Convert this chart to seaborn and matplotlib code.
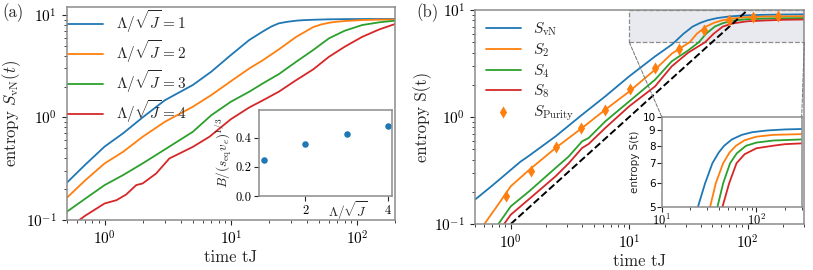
import numpy as np
import seaborn as sns
import matplotlib
matplotlib.use("Agg")
import matplotlib.pyplot as plt
from matplotlib.patches import Rectangle, ConnectionPatch
from matplotlib.ticker import NullLocator, NullFormatter

sns.set_style("ticks")
plt.rcParams.update({
    "font.family": "cmr10",
    "mathtext.fontset": "cm",
    "axes.formatter.use_mathtext": True,
    "axes.unicode_minus": False,
    "axes.edgecolor": "0.55",
    "axes.linewidth": 1.1,
    "xtick.color": "0.15",
    "ytick.color": "0.15",
    "xtick.labelcolor": "black",
    "ytick.labelcolor": "black",
})

# ---------------- panel (a): S_vN for different Lambda ----------------
t_l1 = [0.5, 0.7, 1, 1.4, 2, 3, 5, 7, 10, 14, 18, 21, 24, 28, 33, 38, 45, 60, 80, 110,
        150, 200]
s_lam1 = [0.23, 0.345, 0.52, 0.70, 1.0, 1.47, 2.07, 2.79, 4.05, 5.68, 6.9, 7.7, 8.26,
          8.55, 8.77, 8.88, 8.95, 9.04, 9.08, 9.1, 9.1, 9.1]
t_l2 = [0.5, 0.7, 1, 1.4, 2, 3, 5, 7, 10, 14, 18, 24, 33, 45, 52, 60, 70, 80, 110,
        150, 200]
s_lam2 = [0.164, 0.243, 0.356, 0.462, 0.647, 0.906, 1.27, 1.65, 2.25, 3.0, 3.62, 4.6,
          6.1, 7.6, 8.05, 8.37, 8.58, 8.7, 8.9, 8.97, 9.0]
t_l3 = [0.5, 0.7, 1, 1.4, 2, 3, 5, 7, 10, 14, 18, 24, 33, 45, 60, 80, 110, 150, 200]
s_lam3 = [0.12, 0.161, 0.219, 0.274, 0.356, 0.487, 0.724, 1.05, 1.42, 1.78, 2.15, 2.64,
          3.49, 4.54, 5.9, 7.0, 7.95, 8.45, 8.77]
t_l4 = [0.5, 0.7, 1, 1.24, 1.48, 1.78, 2, 2.56, 3.26, 3.69, 5, 6.76, 10, 14, 18, 24,
        33, 45, 60, 80, 110, 150, 200]
s_lam4 = [0.081, 0.11, 0.145, 0.156, 0.177, 0.219, 0.227, 0.284, 0.398, 0.429, 0.516,
          0.647, 0.96, 1.25, 1.47, 1.78, 2.31, 2.94, 3.9, 4.89, 6.1, 7.2, 8.13]

# inset (a): butterfly velocity ratio
lam_vals = [1, 2, 3, 4]
b_ratio = [0.245, 0.358, 0.428, 0.477]

# ---------------- panel (b): Renyi entropies ----------------
t_vn = [0.5, 0.7, 1, 1.2, 1.43, 2.39, 4, 6.28, 10, 16.5, 22.8, 24.1, 28.7, 34.3, 40,
        45.6, 55, 70, 90, 130, 200, 300]
s_vn = [0.169, 0.229, 0.32, 0.38, 0.435, 0.659, 1.05, 1.56, 2.4, 3.68, 4.74, 5.0, 6.0,
        7.0, 7.6, 8.0, 8.4, 8.7, 8.88, 9.0, 9.07, 9.1]
t_s2 = [0.5, 0.6, 0.8, 1, 1.43, 2.39, 4, 6.28, 10, 16.5, 22.8, 27, 32.4, 37.2, 44.5,
        52, 60.7, 75, 100, 150, 300]
s_s2 = [0.076, 0.1, 0.157, 0.225, 0.32, 0.513, 0.79, 1.17, 1.73, 2.77, 3.9, 4.4, 5.0,
        6.0, 7.0, 7.6, 8.0, 8.35, 8.58, 8.7, 8.75]
t_s4 = [0.7, 0.787, 1, 1.43, 2.39, 3.09, 4, 4.55, 6.28, 10, 16.5, 22.8, 31.5, 38.7,
        44.5, 52.7, 62, 77.5, 100, 150, 300]
s_s4 = [0.083, 0.1, 0.146, 0.202, 0.334, 0.428, 0.592, 0.637, 0.91, 1.40, 2.23, 3.31,
        4.2, 5.0, 6.0, 7.0, 7.55, 8.0, 8.2, 8.33, 8.4]
t_s8 = [0.8, 0.88, 1, 1.43, 2.39, 3.09, 4, 4.55, 6.28, 10, 16.5, 22.8, 31.5, 43.7, 51.5,
        61.6, 75, 100, 148, 200, 300]
s_s8 = [0.087, 0.1, 0.122, 0.171, 0.279, 0.37, 0.513, 0.56, 0.79, 1.26, 1.93, 2.97, 4.0,
        5.0, 6.0, 7.0, 7.5, 7.85, 8.0, 8.1, 8.15]
t_pur = [0.91, 1.49, 2.42, 3.92, 6.28, 10.2, 16.5, 26.3, 42.7, 69.2, 111, 180]
s_pur = [0.184, 0.315, 0.52, 0.79, 1.17, 1.83, 2.87, 4.35, 6.54, 8.0, 8.53, 8.71]
t_dash = [1, 100]
s_dash = [0.1, 10]

blue, orange, green, red = sns.color_palette("tab10", 4)

fig = plt.figure(figsize=(8.13, 2.70), dpi=100)

# ---- (a)
ax_a = fig.add_axes([0.0820, 0.1852, 0.4038, 0.790])
sns.lineplot(x=t_l1, y=s_lam1, ax=ax_a, color=blue, lw=1.3, label=r"$\Lambda/\sqrt{J}=1$")
sns.lineplot(x=t_l2, y=s_lam2, ax=ax_a, color=orange, lw=1.3, label=r"$\Lambda/\sqrt{J}=2$")
sns.lineplot(x=t_l3, y=s_lam3, ax=ax_a, color=green, lw=1.3, label=r"$\Lambda/\sqrt{J}=3$")
sns.lineplot(x=t_l4, y=s_lam4, ax=ax_a, color=red, lw=1.3, label=r"$\Lambda/\sqrt{J}=4$")
ax_a.set_xscale("log")
ax_a.set_yscale("log")
ax_a.set_xlim(0.5, 200)
ax_a.set_ylim(0.1, 12)
ax_a.set_xlabel("time tJ", fontsize=12, labelpad=1)
ax_a.set_ylabel(r"entropy $S_{\rm vN}(t)$", fontsize=12, labelpad=2)
ax_a.tick_params(labelsize=11)
ax_a.legend(loc="upper left", frameon=False, fontsize=11, handlelength=2.3,
            handletextpad=0.8, labelspacing=0.2, borderaxespad=0.1, borderpad=0.0)

ins_a = fig.add_axes([0.319, 0.274, 0.1629, 0.3185])
sns.scatterplot(x=lam_vals, y=b_ratio, ax=ins_a, color=blue, s=22, linewidth=0)
ins_a.set_xlim(0.88, 4.1)
ins_a.set_ylim(0, 0.59)
ins_a.set_xticks([2, 4])
ins_a.set_yticks([0.0, 0.2, 0.4])
ins_a.set_yticklabels(["0.0", "0.2", "0.4"])
ins_a.tick_params(labelsize=9, pad=2)
ins_a.set_ylabel(r"$B/(s_{\rm eq}v_e)^{1/3}$", fontsize=9.5, labelpad=1)
ins_a.set_xlabel(r"$\Lambda/\sqrt{J}$", fontsize=9.5)
ins_a.xaxis.set_label_coords(0.67, -0.04)

# ---- (b)
ax_b = fig.add_axes([0.5843, 0.1704, 0.405, 0.7926])
ax_b.add_patch(Rectangle((10, 5), 290, 5, facecolor="#e9eaef", edgecolor="0.55",
                         ls="--", lw=0.9, zorder=0.5))
sns.lineplot(x=t_vn, y=s_vn, ax=ax_b, color=blue, lw=1.3, label=r"$S_{\rm vN}$")
sns.lineplot(x=t_s2, y=s_s2, ax=ax_b, color=orange, lw=1.3, label=r"$S_2$")
sns.lineplot(x=t_s4, y=s_s4, ax=ax_b, color=green, lw=1.3, label=r"$S_4$")
sns.lineplot(x=t_s8, y=s_s8, ax=ax_b, color=red, lw=1.3, label=r"$S_8$")
ax_b.plot(t_dash, s_dash, "k--", lw=1.4)
sns.scatterplot(x=t_pur, y=s_pur, ax=ax_b, color=orange, marker="d", s=38,
                linewidth=0, label=r"$S_{\rm Purity}$", zorder=5)
ax_b.set_xscale("log")
ax_b.set_yscale("log")
ax_b.set_xlim(0.5, 300)
ax_b.set_ylim(0.1, 10)
ax_b.set_xlabel("time tJ", fontsize=12, labelpad=1)
ax_b.set_ylabel("entropy S(t)", fontsize=12, labelpad=2)
ax_b.tick_params(labelsize=11)
ax_b.legend(loc="upper left", frameon=False, fontsize=11, handlelength=2.3,
            handletextpad=0.8, labelspacing=0.2, borderaxespad=0.6, borderpad=0.1)

ins_b = fig.add_axes([0.8139, 0.2333, 0.1722, 0.3344])
sns.lineplot(x=t_vn, y=s_vn, ax=ins_b, color=blue, lw=1.3)
sns.lineplot(x=t_s2, y=s_s2, ax=ins_b, color=orange, lw=1.3)
sns.lineplot(x=t_s4, y=s_s4, ax=ins_b, color=green, lw=1.3)
sns.lineplot(x=t_s8, y=s_s8, ax=ins_b, color=red, lw=1.3)
ins_b.set_xscale("log")
ins_b.set_yscale("log")
ins_b.set_xlim(10, 300)
ins_b.set_ylim(5, 10)
ins_b.yaxis.set_minor_locator(NullLocator())
ins_b.yaxis.set_minor_formatter(NullFormatter())
ins_b.set_yticks([5, 6, 7, 8, 9, 10], labels=["5", "6", "7", "8", "9", "10"],
                 fontsize=7.5, fontfamily="DejaVu Sans")
ins_b.tick_params(axis="x", labelsize=9, pad=1)
ins_b.tick_params(axis="y", pad=1)
ins_b.set_ylabel("entropy S(t)", fontsize=7.5, fontfamily="DejaVu Sans", labelpad=2)

for xa, xb in [((10, 5), (10, 10)), ((300, 5), (300, 10))]:
    con = ConnectionPatch(xyA=xa, coordsA=ax_b.transData, xyB=xb, coordsB=ins_b.transData,
                          ls="--", color="0.45", lw=0.7)
    fig.add_artist(con)

fig.text(0.003, 0.935, "(a)", fontsize=12)
fig.text(0.512, 0.935, "(b)", fontsize=12)

fig.savefig("out.png", dpi=100)
